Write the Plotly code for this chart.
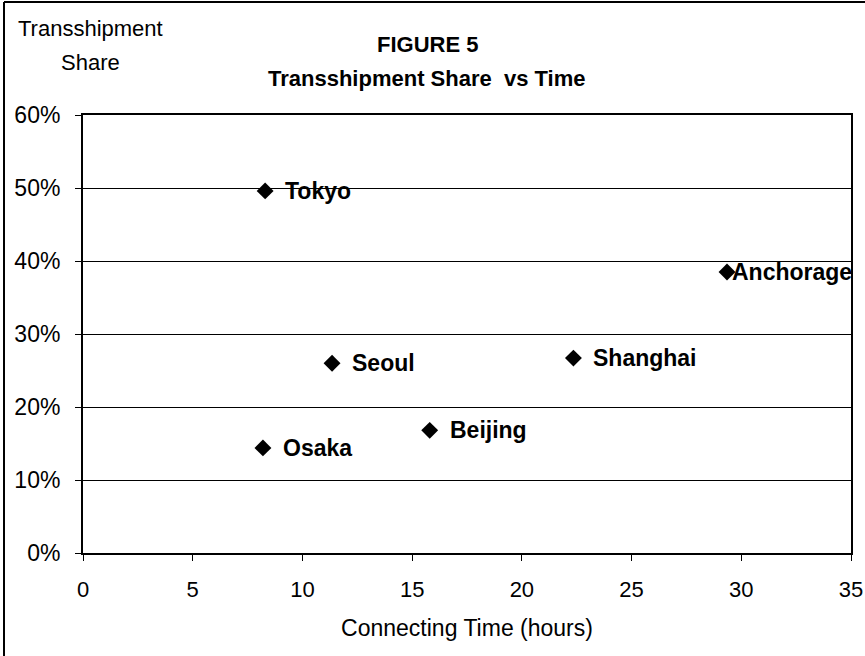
import plotly.graph_objects as go

cities = ["Tokyo", "Seoul", "Osaka", "Beijing", "Shanghai", "Anchorage"]
connecting_hours = [8.3, 11.35, 8.2, 15.8, 22.35, 29.35]
transship_share = [0.496, 0.26, 0.144, 0.168, 0.267, 0.385]
x_ticks = [0, 5, 10, 15, 20, 25, 30, 35]
y_ticks = [0, 0.1, 0.2, 0.3, 0.4, 0.5, 0.6]

# label offsets in pixels (styling only)
label_xshift = {"Anchorage": 3}
default_shift = 18

FONT = "Liberation Sans, Arial, sans-serif"

fig = go.Figure()
fig.add_trace(go.Scatter(
    x=connecting_hours, y=transship_share, mode="markers",
    marker=dict(symbol="diamond", size=13, color="black"),
    hoverinfo="skip", showlegend=False, cliponaxis=False,
))

for c, xv, yv in zip(cities, connecting_hours, transship_share):
    fig.add_annotation(x=xv, y=yv, text=f"<b>{c}</b>", showarrow=False,
                       xanchor="left", yanchor="middle",
                       xshift=label_xshift.get(c, default_shift),
                       font=dict(family=FONT, size=23, color="black"))

fig.update_xaxes(range=[0, 35], tickvals=x_ticks, showgrid=False, automargin=False,
                 showline=True, linecolor="black", linewidth=2, mirror=True,
                 ticks="outside", ticklen=6, tickcolor="black",
                 tickfont=dict(family=FONT, size=22, color="black"),
                 ticklabelstandoff=10,
                 title=dict(text="Connecting Time (hours)",
                            font=dict(family=FONT, size=23, color="black"),
                            standoff=18),
                 zeroline=False)
fig.update_yaxes(range=[0, 0.6], tickvals=y_ticks, tickformat=".0%", automargin=False,
                 showgrid=True, gridcolor="black", gridwidth=1,
                 showline=True, linecolor="black", linewidth=2, mirror=True,
                 ticks="outside", ticklen=6, tickcolor="black",
                 tickfont=dict(family=FONT, size=23, color="black"),
                 ticklabelstandoff=10,
                 zeroline=False)

fig.add_annotation(xref="paper", yref="paper", x=(90 - 83) / 768, y=(553 - 28) / 438,
                   text="Transshipment", showarrow=False, xanchor="center", yanchor="middle",
                   font=dict(family=FONT, size=22, color="black"))
fig.add_annotation(xref="paper", yref="paper", x=(90 - 83) / 768, y=(553 - 62) / 438,
                   text="Share", showarrow=False, xanchor="center", yanchor="middle",
                   font=dict(family=FONT, size=22, color="black"))
fig.add_annotation(xref="paper", yref="paper", x=(427 - 83) / 768, y=(553 - 45) / 438,
                   text="<b>FIGURE 5</b>", showarrow=False, xanchor="center", yanchor="middle",
                   font=dict(family=FONT, size=22, color="black"))
fig.add_annotation(xref="paper", yref="paper", x=(427 - 83) / 768, y=(553 - 78) / 438,
                   text="<b>Transshipment Share  vs Time</b>", showarrow=False,
                   xanchor="center", yanchor="middle",
                   font=dict(family=FONT, size=22, color="black"))

# outer chart border (left and top visible)
fig.add_shape(type="line", xref="paper", yref="paper",
              x0=(4 - 83) / 768, x1=(4 - 83) / 768, y0=(553 - 660) / 438, y1=(553 - 2) / 438,
              line=dict(color="black", width=2))
fig.add_shape(type="line", xref="paper", yref="paper",
              x0=(4 - 83) / 768, x1=(870 - 83) / 768, y0=(553 - 2) / 438, y1=(553 - 2) / 438,
              line=dict(color="black", width=2))

fig.update_layout(template="none", width=865, height=656,
                  plot_bgcolor="white", paper_bgcolor="white",
                  margin=dict(l=83, r=14, t=115, b=103, autoexpand=False), showlegend=False)

fig.write_html("out.html", config={"displayModeBar": False},
               post_script="document.body.style.margin='0';document.body.style.overflow='hidden';")
